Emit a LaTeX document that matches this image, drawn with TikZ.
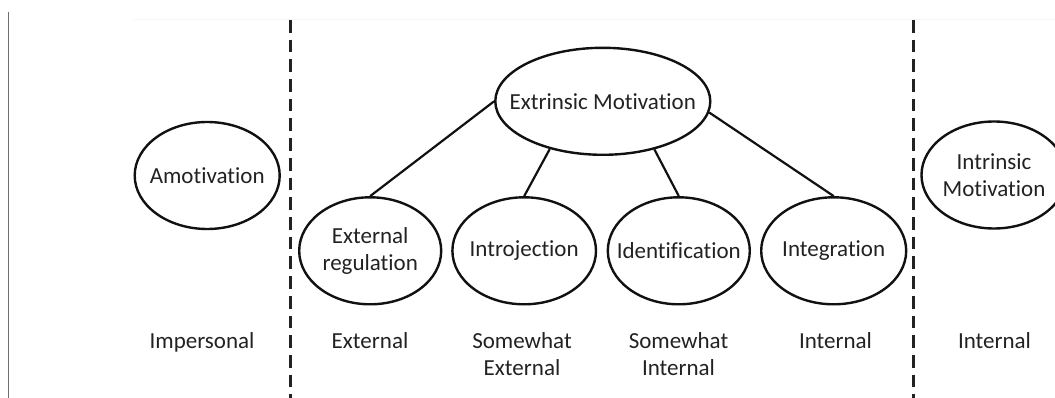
\documentclass[tikz,border=0pt]{standalone}
\usepackage{fontspec}
\setmainfont{Carlito}[RawFeature={-liga;-clig;-dlig}]
\usetikzlibrary{shapes.geometric}
\definecolor{inkc}{HTML}{111111}
\definecolor{txtc}{HTML}{222222}
\definecolor{dashc}{HTML}{222222}
\definecolor{edgec}{HTML}{6E6E6E}
\definecolor{faintc}{HTML}{F6F6F6}
\begin{document}
\begin{tikzpicture}[x=1pt,y=-1pt,
  oval/.style={ellipse, draw=inkc, line width=2.4pt, inner xsep=-30pt, inner ysep=-10pt,
    minimum height=107pt, align=center, text=txtc, font=\fontsize{23}{27}\selectfont},
  lab/.style={align=center, anchor=base, text=txtc, font=\fontsize{23}{27}\selectfont, inner sep=0pt},
  conn/.style={draw=inkc, line width=2.2pt},
  divider/.style={draw=dashc, line width=3pt, dash pattern=on 12.7pt off 7pt},
  edge/.style={draw=edgec, line width=1.3pt},
  faint/.style={draw=faintc, line width=1pt}]
\useasboundingbox (0,0) rectangle (1055,398);
\clip (0,0) rectangle (1055,398);
% frame fragments
\coordinate (g1) at (8.7,12);
\coordinate (g2) at (8.7,398);
\draw[edge] (g1) -- (g2);
\coordinate (f1) at (133,20);
\coordinate (f2) at (1055,20);
\draw[faint] (f1) -- (f2);
% dashed dividers
\coordinate (d1t) at (290,20);
\coordinate (d1b) at (290,398);
\coordinate (d2t) at (913,20);
\coordinate (d2b) at (913,398);
\draw[divider] (d1t) -- (d1b);
\draw[divider] (d2t) -- (d2b);
% ellipses
\node[oval, minimum width=145pt] (amo) at (207.2,175.5) {Amotivation};
\node[oval, minimum width=215pt] (ext) at (602.8,101.3) {Extrinsic Motivation};
\node[oval, minimum width=142pt] (exr) at (370.2,250.8) {External\\regulation};
\node[oval, minimum width=143.6pt] (intro) at (524.2,250.8) {Introjection};
\node[oval, minimum width=142pt] (ident) at (678.8,250.8) {Identification};
\node[oval, minimum width=145pt] (integ) at (833.7,250.8) {Integration};
\node[oval, minimum width=145pt] (intr) at (994,175) {Intrinsic\\Motivation};
% connectors
\draw[conn] (ext.west) -- (exr.north);
\draw[conn] (ext.222) -- (intro.north);
\draw[conn] (ext.-43) -- (ident.north);
\draw[conn] (ext.-6) -- (integ.north);
% bottom labels
\node[lab] (l1) at (202,348) {Impersonal};
\node[lab] (l2) at (370,348) {External};
\node[lab] (l3) at (522,375) {Somewhat\\External};
\node[lab] (l4) at (678.5,375) {Somewhat\\Internal};
\node[lab] (l5) at (835.5,348) {Internal};
\node[lab] (l6) at (994.5,348) {Internal};
\end{tikzpicture}
\end{document}
